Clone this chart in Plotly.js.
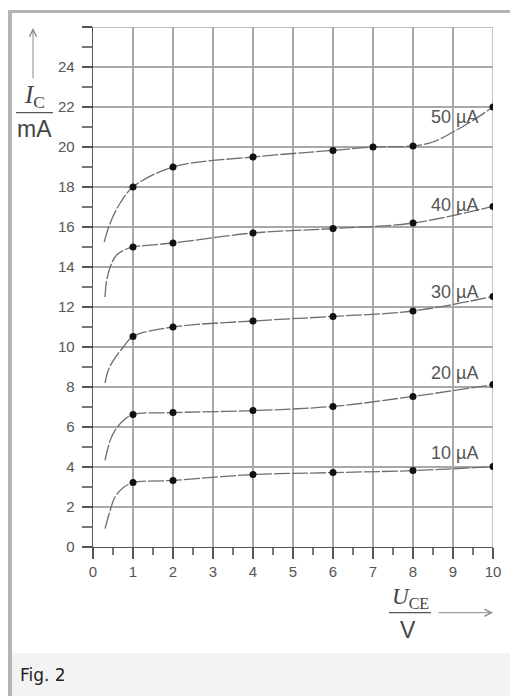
<!DOCTYPE html>
<html>
<head>
<meta charset="utf-8">
<script src="https://cdn.plot.ly/plotly-3.0.1.min.js"></script>
<style>
  html, body { margin: 0; padding: 0; background: #ffffff; }
  body { width: 510px; height: 696px; position: relative; overflow: hidden; }
  #frame { position: absolute; left: 8px; top: 10px; width: 502px; height: 686px;
           border-left: 4px solid #b4b4b4; border-top: 3px solid #b4b4b4; box-sizing: border-box; }
  #cap { position: absolute; left: 12px; top: 653px; width: 498px; height: 43px; background: #f3f3f3; }
  #captext { position: absolute; left: 8px; top: 14px; font-family: "DejaVu Sans", sans-serif;
             font-size: 17px; line-height: 17px; color: #222; }
  #plot { position: absolute; left: 0; top: 0; width: 510px; height: 696px; }
</style>
</head>
<body>
<div id="frame"></div>
<div id="cap"><span id="captext">Fig. 2</span></div>
<div id="plot"></div>
<script>
// Base current labels
const seriesLabels = ['10 µA', '20 µA', '30 µA', '40 µA', '50 µA'];

// Measured points (dots) U_CE in V, I_C in mA
const dotX10 = [1, 2, 4, 6, 8, 10];
const dotY10 = [3.22, 3.33, 3.62, 3.72, 3.82, 4.02];
const dotX20 = [1, 2, 4, 6, 8, 10];
const dotY20 = [6.62, 6.72, 6.82, 7.03, 7.53, 8.12];
const dotX30 = [1, 2, 4, 6, 8, 10];
const dotY30 = [10.53, 11.0, 11.3, 11.53, 11.8, 12.53];
const dotX40 = [1, 2, 4, 6, 8, 10];
const dotY40 = [15.0, 15.2, 15.7, 15.92, 16.2, 17.03];
const dotX50 = [1, 2, 4, 6, 7, 8, 10];
const dotY50 = [18.0, 19.0, 19.5, 19.83, 20.0, 20.05, 22.0];

// Curve-only points (no dot)
const kneeX10 = [0.3, 0.43, 0.55, 0.76];
const kneeY10 = [0.92, 1.83, 2.5, 2.97];
const kneeX20 = [0.3, 0.43, 0.55, 0.76];
const kneeY20 = [4.33, 5.33, 5.83, 6.33];
const kneeX30 = [0.3, 0.38, 0.51, 0.76];
const kneeY30 = [8.2, 8.83, 9.33, 10.0];
const kneeX40 = [0.3, 0.34, 0.43, 0.59, 0.84];
const kneeY40 = [12.5, 13.3, 14.0, 14.6, 14.9];
const kneeX50 = [0.28, 0.43, 0.68, 8.5, 9.0, 9.5];
const kneeY50 = [15.25, 16.2, 17.2, 20.25, 20.75, 21.33];

// Label anchor positions (data units)
const labelX = [9.04, 9.04, 9.04, 9.04, 9.04];
const labelY = [4.72, 8.7, 12.75, 17.1, 21.5];

// Axis tick values
const yTickVals = [0, 2, 4, 6, 8, 10, 12, 14, 16, 18, 20, 22, 24, 26];
const yTickText = ['0', '2', '4', '6', '8', '10', '12', '14', '16', '18', '20', '22', '24', ''];
const xTickVals = [0, 1, 2, 3, 4, 5, 6, 7, 8, 9, 10];
const darkX = [2, 6];
const darkY = [2, 6, 10, 14, 18, 22];

const dots = [[dotX10, dotY10], [dotX20, dotY20], [dotX30, dotY30], [dotX40, dotY40], [dotX50, dotY50]];
const knees = [[kneeX10, kneeY10], [kneeX20, kneeY20], [kneeX30, kneeY30], [kneeX40, kneeY40], [kneeX50, kneeY50]];

function merged(k, d) {
  const pts = [];
  k[0].forEach((x, i) => pts.push([x, k[1][i]]));
  d[0].forEach((x, i) => pts.push([x, d[1][i]]));
  pts.sort((a, b) => a[0] - b[0]);
  return [pts.map(p => p[0]), pts.map(p => p[1])];
}

const traces = [];
dots.forEach((d, i) => {
  const m = merged(knees[i], d);
  traces.push({
    x: m[0], y: m[1], type: 'scatter', mode: 'lines',
    line: { shape: 'spline', smoothing: 1, color: '#6e6e6e', width: 1.3, dash: '16px,2px' },
    hoverinfo: 'skip', showlegend: false
  });
});
dots.forEach((d, i) => {
  traces.push({
    x: d[0], y: d[1], type: 'scatter', mode: 'markers',
    marker: { color: '#111', size: 7 },
    name: seriesLabels[i], showlegend: false
  });
});

const X0 = 93, PW = 400, Y0 = 547, PH = 520;
const px = v => (v - X0) / PW;
const py = v => (Y0 - v) / PH;

const shapes = [];
darkX.forEach(v => shapes.push({ type: 'line', layer: 'below', xref: 'x', yref: 'paper', x0: v, x1: v, y0: 0, y1: 1,
  line: { color: '#5a5a5a', width: 1.4 } }));
darkY.forEach(v => shapes.push({ type: 'line', layer: 'below', xref: 'paper', yref: 'y', x0: 0, x1: 1, y0: v, y1: v,
  line: { color: '#5a5a5a', width: 1.4 } }));
// edge grid lines
shapes.push({ type: 'line', layer: 'below', xref: 'x', yref: 'paper', x0: 10, x1: 10, y0: 0, y1: 1, line: { color: '#a8a8a8', width: 1.3 } });
shapes.push({ type: 'line', layer: 'below', xref: 'paper', yref: 'y', x0: 0, x1: 1, y0: 26, y1: 26, line: { color: '#a8a8a8', width: 1.3 } });
// fraction bars of axis titles
shapes.push({ type: 'line', xref: 'paper', yref: 'paper', x0: px(16), x1: px(53), y0: py(112.7), y1: py(112.7), line: { color: '#555', width: 1.3 } });
shapes.push({ type: 'line', xref: 'paper', yref: 'paper', x0: px(389), x1: px(431), y0: py(612.7), y1: py(612.7), line: { color: '#555', width: 1.3 } });

const annotations = [];
seriesLabels.forEach((t, i) => annotations.push({
  x: labelX[i], y: labelY[i], xref: 'x', yref: 'y', text: t, showarrow: false,
  xanchor: 'center', yanchor: 'middle',
  font: { family: 'Liberation Sans, Arial, sans-serif', size: 18, color: '#555' }
}));
annotations.push({ xref: 'paper', yref: 'paper', x: px(34.5), y: py(112), xanchor: 'center', yanchor: 'bottom', yshift: -2,
  text: '<i>I</i><sub>C</sub>', showarrow: false,
  font: { family: 'Liberation Serif, serif', size: 25, color: '#444' } });
annotations.push({ xref: 'paper', yref: 'paper', x: px(34.5), y: py(114), xanchor: 'center', yanchor: 'top',
  text: 'mA', showarrow: false,
  font: { family: 'Liberation Sans, Arial, sans-serif', size: 23, color: '#444' } });
annotations.push({ xref: 'paper', yref: 'paper', x: px(410), y: py(612), xanchor: 'center', yanchor: 'bottom', yshift: -2,
  text: '<i>U</i><sub>CE</sub>', showarrow: false,
  font: { family: 'Liberation Serif, serif', size: 23, color: '#444' } });
annotations.push({ xref: 'paper', yref: 'paper', x: px(407.5), y: py(615), xanchor: 'center', yanchor: 'top',
  text: 'V', showarrow: false,
  font: { family: 'Liberation Sans, Arial, sans-serif', size: 23, color: '#444' } });
// arrows
annotations.push({ xref: 'paper', yref: 'paper', x: px(33), y: py(28), ax: 0, ay: 52, text: '', showarrow: true,
  arrowhead: 5, arrowsize: 1.4, arrowwidth: 1, arrowcolor: '#8a8a8a' });
annotations.push({ xref: 'paper', yref: 'paper', x: px(493), y: py(612.7), ax: -56, ay: 0, text: '', showarrow: true,
  arrowhead: 5, arrowsize: 1.4, arrowwidth: 1, arrowcolor: '#8a8a8a' });

const tickFont = { family: 'Liberation Sans, Arial, sans-serif', size: 15, color: '#555' };

const layout = {
  width: 510, height: 696,
  margin: { l: 93, r: 17, t: 27, b: 149, pad: 0 },
  paper_bgcolor: 'rgba(0,0,0,0)', plot_bgcolor: 'rgba(0,0,0,0)',
  showlegend: false,
  xaxis: {
    range: [0, 10], tickmode: 'array', tickvals: xTickVals, ticktext: xTickVals.map(String),
    ticks: 'outside', ticklen: 11, tickwidth: 1.3, tickcolor: '#555',
    showgrid: true, gridcolor: '#a8a8a8', gridwidth: 1.3, zeroline: false,
    showline: true, linecolor: '#555', linewidth: 1.4,
    tickfont: tickFont, ticklabelstandoff: 0,
    minor: { tickmode: 'linear', tick0: 0.5, dtick: 1, ticks: 'outside', ticklen: 7, tickwidth: 1.2, tickcolor: '#777', showgrid: false }
  },
  yaxis: {
    range: [0, 26], tickmode: 'array', tickvals: yTickVals, ticktext: yTickText,
    ticks: 'outside', ticklen: 10, tickwidth: 1.3, tickcolor: '#555',
    showgrid: true, gridcolor: '#a8a8a8', gridwidth: 1.3, zeroline: false,
    showline: true, linecolor: '#555', linewidth: 1.4,
    tickfont: tickFont, ticklabelstandoff: 4,
    minor: { tickmode: 'linear', tick0: 1, dtick: 2, ticks: 'outside', ticklen: 10, tickwidth: 1.2, tickcolor: '#777', showgrid: false }
  },
  shapes: shapes,
  annotations: annotations
};

Plotly.newPlot('plot', traces, layout, { staticPlot: true, displayModeBar: false });
</script>
</body>
</html>
